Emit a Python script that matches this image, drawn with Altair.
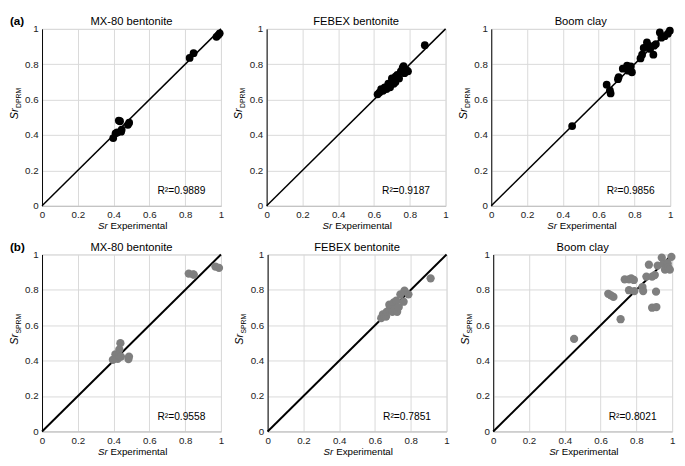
import altair as alt
import pandas as pd

FONT = "Liberation Sans"
TICKS = [0, 0.2, 0.4, 0.6, 0.8, 1]
TITLES = ["MX-80 bentonite", "FEBEX bentonite", "Boom clay"]
ROW_LETTERS = ["(a)", "(b)"]
ROW_SUBS = ["DPRM", "SPRM"]
R2_A = ["R\u00b2=0.9889", "R\u00b2=0.9187", "R\u00b2=0.9856"]
R2_B = ["R\u00b2=0.9558", "R\u00b2=0.7851", "R\u00b2=0.8021"]

# (a) DPRM
MX80_EXP_A = [0.398, 0.411, 0.420, 0.429, 0.436, 0.442, 0.445, 0.480, 0.487, 0.825, 0.847, 0.975, 0.985, 0.993]
MX80_DPRM = [0.383, 0.410, 0.415, 0.482, 0.478, 0.419, 0.430, 0.458, 0.470, 0.836, 0.863, 0.955, 0.965, 0.975]

FEBEX_EXP_A = [0.620, 0.630, 0.640, 0.650, 0.660, 0.670, 0.680, 0.680, 0.690, 0.700, 0.700, 0.710, 0.710,
               0.720, 0.720, 0.730, 0.730, 0.740, 0.750, 0.760, 0.765, 0.770, 0.780, 0.790, 0.884]
FEBEX_DPRM = [0.630, 0.640, 0.660, 0.650, 0.670, 0.660, 0.680, 0.690, 0.670, 0.700, 0.720, 0.690, 0.710,
              0.730, 0.700, 0.720, 0.740, 0.720, 0.760, 0.780, 0.790, 0.750, 0.770, 0.760, 0.908]

BOOM_EXP_A = [0.452, 0.645, 0.663, 0.667, 0.708, 0.712, 0.735, 0.759, 0.766, 0.780, 0.786, 0.834, 0.843,
              0.852, 0.870, 0.879, 0.888, 0.906, 0.910, 0.920, 0.942, 0.951, 0.969, 0.987, 0.998]
BOOM_DPRM = [0.451, 0.685, 0.653, 0.635, 0.716, 0.728, 0.775, 0.793, 0.764, 0.788, 0.755, 0.833, 0.854,
             0.892, 0.923, 0.905, 0.887, 0.854, 0.905, 0.914, 0.980, 0.950, 0.959, 0.973, 0.990]

# (b) SPRM
MX80_EXP_B = [0.396, 0.410, 0.423, 0.432, 0.438, 0.432, 0.441, 0.483, 0.486, 0.820, 0.845, 0.848, 0.969, 0.989]
MX80_SPRM = [0.405, 0.436, 0.410, 0.423, 0.499, 0.463, 0.423, 0.409, 0.423, 0.892, 0.888, 0.886, 0.932, 0.924]

FEBEX_EXP_B = [0.635, 0.644, 0.653, 0.662, 0.665, 0.680, 0.680, 0.689, 0.697, 0.700, 0.706, 0.712, 0.719,
               0.724, 0.733, 0.742, 0.760, 0.765, 0.787, 0.911]
FEBEX_SPRM = [0.640, 0.661, 0.654, 0.649, 0.676, 0.685, 0.716, 0.712, 0.676, 0.716, 0.730, 0.694, 0.739,
              0.676, 0.703, 0.775, 0.733, 0.796, 0.775, 0.865]

BOOM_EXP_B = [0.452, 0.643, 0.658, 0.672, 0.712, 0.735, 0.759, 0.771, 0.786, 0.759, 0.789, 0.834, 0.838,
              0.856, 0.870, 0.888, 0.903, 0.910, 0.888, 0.912, 0.919, 0.942, 0.951, 0.960, 0.975, 0.978,
              0.987, 0.996]
BOOM_SPRM = [0.523, 0.778, 0.769, 0.760, 0.634, 0.859, 0.859, 0.865, 0.856, 0.798, 0.793, 0.816, 0.793,
             0.875, 0.942, 0.875, 0.884, 0.790, 0.699, 0.703, 0.937, 0.982, 0.946, 0.914, 0.951, 0.928,
             0.914, 0.986]

W = 184
H = 182


def make_axis(domain_color):
    return alt.Axis(values=TICKS, format="~g", ticks=False, grid=True, gridColor="#d9d9d9",
                    gridWidth=1, labelFont=FONT, labelFontSize=10, labelColor="#222222",
                    labelPadding=4, labelFlush=False, labelOverlap=False, title=None,
                    domainColor=domain_color, domainWidth=1)


def enc_x():
    return alt.X("x:Q", scale=alt.Scale(domain=[0, 1], nice=False, zero=False),
                 axis=make_axis("#bfbfbf"))


def enc_y():
    return alt.Y("y:Q", scale=alt.Scale(domain=[0, 1], nice=False, zero=False),
                 axis=make_axis("#000000"))


def txt(base, text, x, y, **kw):
    opts = dict(text=text, font=FONT, color="black", baseline="alphabetic")
    opts.update(kw)
    return base.mark_text(**opts).encode(x=alt.value(x), y=alt.value(y))


def panel(xs, ys, title, sub, r2, color, size, lw, letter=None):
    df = pd.DataFrame({"x": xs, "y": ys})
    diag = alt.Chart(pd.DataFrame({"x": [0, 1], "y": [0, 1]})).mark_line(
        color="black", strokeWidth=lw).encode(x=enc_x(), y=enc_y())
    pts = alt.Chart(df).mark_circle(size=size, color=color, opacity=1).encode(
        x=enc_x(), y=enc_y())
    base = alt.Chart(pd.DataFrame({"a": [0]}))
    layers = [
        diag,
        pts,
        txt(base, r2, W - 16, H - 12, align="right", fontSize=10.5),
        txt(base, "Sr", -25, H * 0.51, angle=270, align="left", fontSize=11, fontStyle="italic"),
        txt(base, sub, -22, H * 0.51 - 11.5, angle=270, align="left", fontSize=7),
        txt(base, "Sr", W / 2 - 24.5, H + 24, align="right", fontSize=10, fontStyle="italic"),
        txt(base, "Experimental", W / 2 - 21.5, H + 24, align="left", fontSize=10),
        txt(base, title, W / 2, -4, align="center", fontSize=11.5),
    ]
    if letter:
        layers.append(txt(base, letter, -33, -4, align="left", fontSize=12, fontWeight="bold"))
    return alt.layer(*layers).properties(width=W, height=H)


BLACK = "#000000"
GRAY = "#7f7f7f"

row_a = alt.hconcat(
    panel(MX80_EXP_A, MX80_DPRM, TITLES[0], ROW_SUBS[0], R2_A[0], BLACK, 64, 1.5, ROW_LETTERS[0]),
    panel(FEBEX_EXP_A, FEBEX_DPRM, TITLES[1], ROW_SUBS[0], R2_A[1], BLACK, 64, 1.5),
    panel(BOOM_EXP_A, BOOM_DPRM, TITLES[2], ROW_SUBS[0], R2_A[2], BLACK, 64, 1.5),
    spacing=8,
)
row_b = alt.hconcat(
    panel(MX80_EXP_B, MX80_SPRM, TITLES[0], ROW_SUBS[1], R2_B[0], GRAY, 72, 2, ROW_LETTERS[1]),
    panel(FEBEX_EXP_B, FEBEX_SPRM, TITLES[1], ROW_SUBS[1], R2_B[1], GRAY, 72, 2),
    panel(BOOM_EXP_B, BOOM_SPRM, TITLES[2], ROW_SUBS[1], R2_B[2], GRAY, 72, 2),
    spacing=8,
)

chart = alt.vconcat(row_a, row_b, spacing=8).properties(padding=0).configure_view(
    stroke=None).configure(background="white")

chart.save("out.html", embed_options={"renderer": "svg", "actions": False})
